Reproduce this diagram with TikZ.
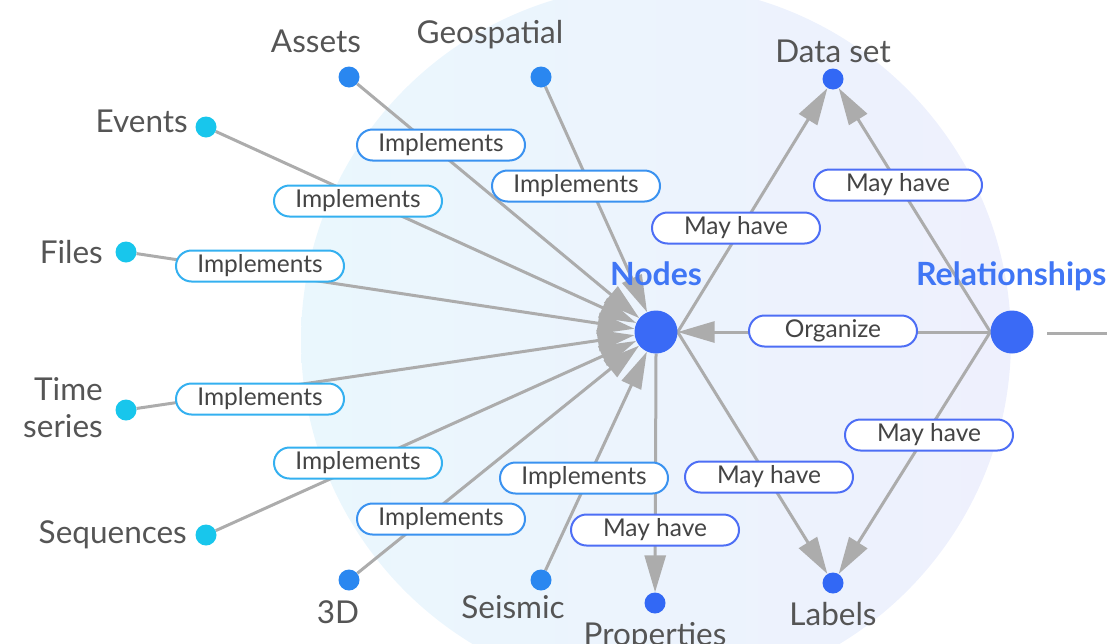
\documentclass[tikz,border=0pt]{standalone}
\usepackage{fontspec}
\setmainfont{Lato}
\usetikzlibrary{arrows.meta,shapes.misc}
\pgfdeclarelayer{bg}
\pgfdeclarelayer{edges}
\pgfsetlayers{bg,edges,main}
\definecolor{edgegray}{RGB}{172,172,172}
\definecolor{cyandot}{RGB}{24,198,236}
\definecolor{bluedot}{RGB}{42,135,240}
\definecolor{indigodot}{RGB}{50,104,245}
\definecolor{hubblue}{RGB}{58,106,246}
\definecolor{hubtext}{RGB}{64,118,245}
\definecolor{cyanborder}{RGB}{52,176,240}
\definecolor{blueborder}{RGB}{58,146,240}
\definecolor{indborder}{RGB}{77,110,245}
\definecolor{leaftext}{RGB}{85,85,85}
\definecolor{lbltext}{RGB}{68,68,68}
\definecolor{bgleft}{RGB}{234,247,253}
\definecolor{bgright}{RGB}{238,240,253}
\tikzset{
  leaf/.style={circle, inner sep=0pt, minimum size=21pt, fill=#1},
  hub/.style={circle, inner sep=0pt, minimum size=43pt, fill=hubblue},
  leafname/.style={font=\fontsize{31.5}{38}\selectfont, text=leaftext, inner sep=0pt},
  hubname/.style={font=\bfseries\fontsize{32}{36}\selectfont, text=hubtext, inner sep=0pt},
  lbl/.style={rounded rectangle, draw=#1, line width=2pt, fill=white,
    minimum width=168pt, minimum height=31pt, inner sep=0pt,
    font=\fontsize{24.5}{28}\selectfont, text=lbltext},
  link/.style={draw=edgegray, line width=3pt},
  arr/.style={link, -{Triangle[length=37pt,width=21pt]}}
}
\begin{document}
\begin{tikzpicture}[x=1pt,y=-1pt]
\useasboundingbox (0,0) rectangle (1107,643);
\begin{pgfonlayer}{bg}
  \shade[left color=bgleft, right color=bgright] (656,340) circle[radius=355pt];
\end{pgfonlayer}

% hubs
\node[hub] (nodes) at (656,332) {};
\node[hub] (rel) at (1012,332) {};
\node[hubname, anchor=base] (nodestxt) at (656,285) {Nodes};
\node[hubname, anchor=base west] (reltxt) at (916,285) {Relationships};

% leaves
\node[leaf=bluedot] (assets) at (349,77) {};
\node[leaf=bluedot] (geo) at (541,77) {};
\node[leaf=cyandot] (events) at (206,127) {};
\node[leaf=cyandot] (files) at (126,252) {};
\node[leaf=cyandot] (ts) at (126,410) {};
\node[leaf=cyandot] (seq) at (206,535) {};
\node[leaf=bluedot] (three) at (349,580) {};
\node[leaf=bluedot] (seismic) at (541,580) {};
\node[leaf=indigodot] (props) at (655,603) {};
\node[leaf=indigodot] (dataset) at (833,79) {};
\node[leaf=indigodot] (labels) at (833,583) {};

% leaf names
\node[leafname, anchor=base] (assetstxt) at (316,52) {Assets};
\node[leafname, anchor=base] (geotxt) at (490,43) {Geospatial};
\node[leafname, anchor=base east] (eventstxt) at (188,132) {Events};
\node[leafname, anchor=base east] (filestxt) at (103,263) {Files};
\node[leafname, anchor=base east] (tstxt1) at (103,400) {Time};
\node[leafname, anchor=base east] (tstxt2) at (103,437) {series};
\node[leafname, anchor=base east] (seqtxt) at (187,543) {Sequences};
\node[leafname, anchor=base] (threetxt) at (338,623) {3D};
\node[leafname, anchor=base] (seismictxt) at (513,618) {Seismic};
\node[leafname, anchor=base] (propstxt) at (655,645) {Properties};
\node[leafname, anchor=base] (labelstxt) at (833,625) {Labels};
\node[leafname, anchor=base] (datasettxt) at (833,62) {Data set};

% connectors
\coordinate (rout1) at (1047,333);
\coordinate (rout2) at (1112,333);
\begin{pgfonlayer}{edges}
  \draw[arr] (assets) -- (nodes);
  \draw[arr] (geo) -- (nodes);
  \draw[arr] (events) -- (nodes);
  \draw[arr] (files) -- (nodes);
  \draw[arr] (ts) -- (nodes);
  \draw[arr] (seq) -- (nodes);
  \draw[arr] (three) -- (nodes);
  \draw[arr] (seismic) -- (nodes);
  \draw[arr] (nodes.south) -- (props);
  \draw[arr] (nodes.east) -- (dataset);
  \draw[arr] (nodes.east) -- (labels);
  \draw[arr] (rel.west) -- (dataset);
  \draw[arr] (rel.west) -- (labels);
  \draw[arr] (rel.west) -- (nodes.east);
  \draw[link] (rout1) -- (rout2);
\end{pgfonlayer}

% connector labels
\node[lbl=blueborder] (l1) at (441,145) {Implements};
\node[lbl=blueborder] (l2) at (576,186) {Implements};
\node[lbl=cyanborder] (l3) at (358,201) {Implements};
\node[lbl=cyanborder] (l4) at (260,266) {Implements};
\node[lbl=cyanborder] (l5) at (260,399) {Implements};
\node[lbl=cyanborder] (l6) at (358,463) {Implements};
\node[lbl=blueborder] (l7) at (441,519) {Implements};
\node[lbl=blueborder] (l8) at (584,478) {Implements};
\node[lbl=indborder] (l9) at (655,530) {May have};
\node[lbl=indborder] (l10) at (736,228) {May have};
\node[lbl=indborder] (l11) at (898,185) {May have};
\node[lbl=indborder] (l12) at (769,477) {May have};
\node[lbl=indborder] (l13) at (929,435) {May have};
\node[lbl=indborder] (l14) at (833,331) {Organize};
\end{tikzpicture}
\end{document}
